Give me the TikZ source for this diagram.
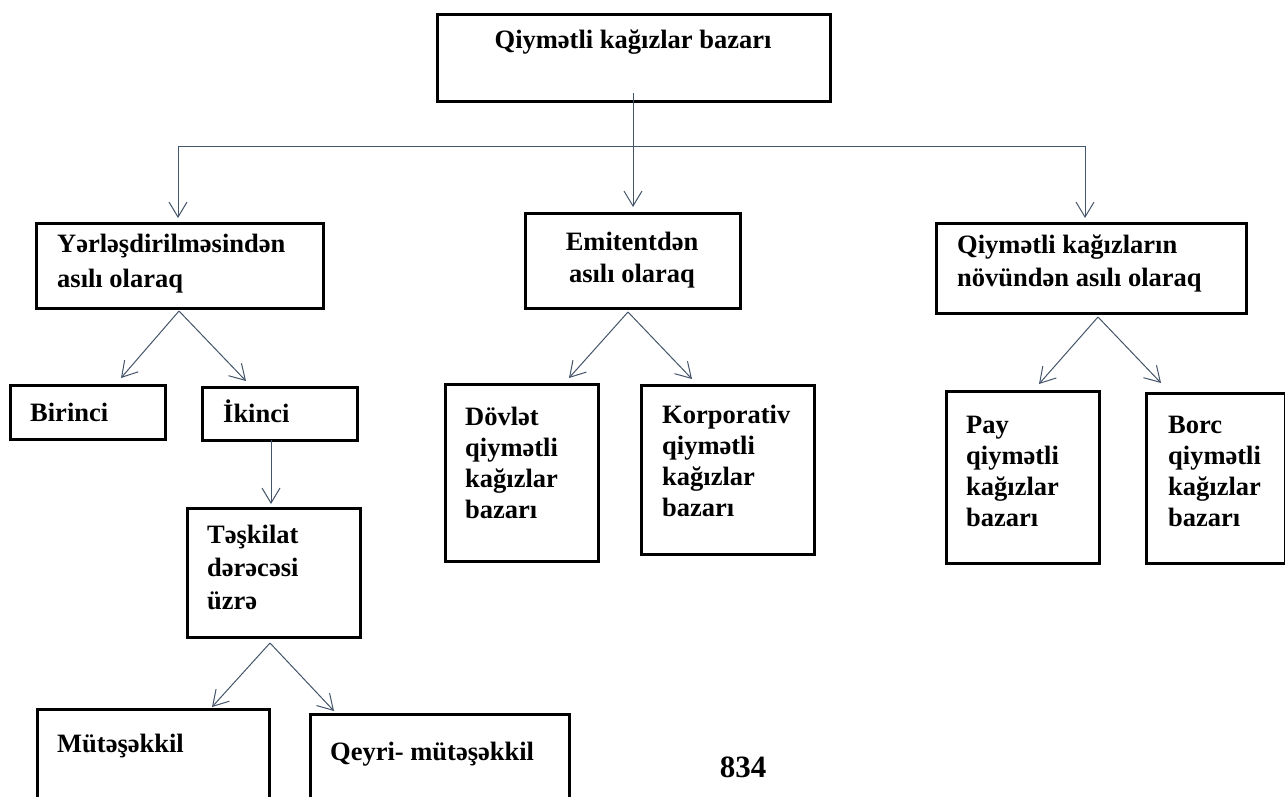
\documentclass[tikz,border=0pt]{standalone}
\usepackage{fontspec}
\setmainfont{Liberation Serif}
\usetikzlibrary{arrows.meta}
\definecolor{conncol}{RGB}{68,84,106}
\newcommand\tlines[3]{{\fontsize{26.5}{#1}\selectfont\begin{tabular}[t]{@{}#2@{}}#3\end{tabular}}}
\tikzset{
  box/.style={draw=black, line width=2.5pt, inner sep=0pt, anchor=north west, rectangle},
  txt/.style={inner sep=0pt, anchor=base west, font=\bfseries},
  conn/.style={draw=conncol, line width=1pt},
  arr/.style={conn, -{Straight Barb[length=15pt,width=18pt,line width=1pt]}}
}
\begin{document}
\begin{tikzpicture}[x=1pt,y=-1pt]
\useasboundingbox (0,0) rectangle (1285,796);
\clip (0,0) rectangle (1285,796);
% boxes
\node[box, minimum width=393pt, minimum height=87pt] (top) at (436,13) {};
\node[box, minimum width=287pt, minimum height=85pt] (lbox) at (35,222) {};
\node[box, minimum width=215pt, minimum height=95pt] (mbox) at (524,212) {};
\node[box, minimum width=310pt, minimum height=90pt] (rbox) at (935,222) {};
\node[box, minimum width=155pt, minimum height=54pt] (birinci) at (9,384) {};
\node[box, minimum width=155pt, minimum height=53pt] (ikinci) at (201,386) {};
\node[box, minimum width=173pt, minimum height=129pt] (teskilat) at (186,507) {};
\node[box, minimum width=153pt, minimum height=177pt] (dovlet) at (444,383) {};
\node[box, minimum width=173pt, minimum height=169pt] (korp) at (640,384) {};
\node[box, minimum width=153pt, minimum height=172pt] (pay) at (945,390) {};
\node[box, minimum width=139pt, minimum height=170pt] (borc) at (1145,392) {};
\node[box, minimum width=232pt, minimum height=100pt] (mut) at (36,708) {};
\node[box, minimum width=259pt, minimum height=100pt] (qeyri) at (309,713) {};
% texts
\node[txt, anchor=base] (ttop) at (633,48) {\tlines{28}{c}{Qiymətli kağızlar bazarı}};
\node[txt] (tl) at (57,252) {\tlines{35}{l}{Yərləşdirilməsindən\\asılı olaraq}};
\node[txt, anchor=base] (tm) at (632,250) {\tlines{32}{c}{Emitentdən\\asılı olaraq}};
\node[txt] (tr) at (957,253) {\tlines{33}{l}{Qiymətli kağızların\\növündən asılı olaraq}};
\node[txt] (tb) at (30,421) {\tlines{28}{l}{Birinci}};
\node[txt] (ti) at (223,422) {\tlines{28}{l}{İkinci}};
\node[txt] (tt) at (207,543) {\tlines{33}{l}{Təşkilat\\dərəcəsi\\üzrə}};
\node[txt] (td) at (465,425) {\tlines{31}{l}{Dövlət\\qiymətli\\kağızlar\\bazarı}};
\node[txt] (tk) at (662,423) {\tlines{31}{l}{Korporativ\\qiymətli\\kağızlar\\bazarı}};
\node[txt] (tp) at (966,433) {\tlines{31}{l}{Pay\\qiymətli\\kağızlar\\bazarı}};
\node[txt] (tbo) at (1168,433) {\tlines{31}{l}{Borc\\qiymətli\\kağızlar\\bazarı}};
\node[txt] (tmu) at (57,752) {\tlines{28}{l}{Mütəşəkkil}};
\node[txt] (tq) at (330,760) {\tlines{28}{l}{Qeyri- mütəşəkkil}};
\node[inner sep=0pt, anchor=base, font=\bfseries\fontsize{31}{34}\selectfont] (page) at (743,777) {834};
% connector coordinates
\coordinate (j) at (633,146);
\coordinate (jl) at (178,146);
\coordinate (jr) at (1085,146);
\coordinate (tipm) at (633,207);
\coordinate (tipl) at (178,218);
\coordinate (tipr) at (1085,218);
\coordinate (al) at (179,311);
\coordinate (am) at (628,312);
\coordinate (ar) at (1098,317);
\coordinate (at) at (270,643);
\coordinate (tbir) at (121,378);
\coordinate (tiki) at (246,381);
\coordinate (tdov) at (569,378);
\coordinate (tkor) at (692,379);
\coordinate (tpay) at (1039,384);
\coordinate (tbor) at (1161,383);
\coordinate (tmut) at (212,707);
\coordinate (tqey) at (334,711);
\coordinate (ikb) at (271,440);
\coordinate (ttes) at (271,504);
% connectors
\draw[arr] (633,93) -- (tipm);
\draw[conn] (jl) -- (jr);
\draw[arr] (jl) -- (tipl);
\draw[arr] (jr) -- (tipr);
\draw[arr] (al) -- (tbir);
\draw[arr] (al) -- (tiki);
\draw[arr] (am) -- (tdov);
\draw[arr] (am) -- (tkor);
\draw[arr] (ar) -- (tpay);
\draw[arr] (ar) -- (tbor);
\draw[arr] (ikb) -- (ttes);
\draw[arr] (at) -- (tmut);
\draw[arr] (at) -- (tqey);
\end{tikzpicture}
\end{document}
